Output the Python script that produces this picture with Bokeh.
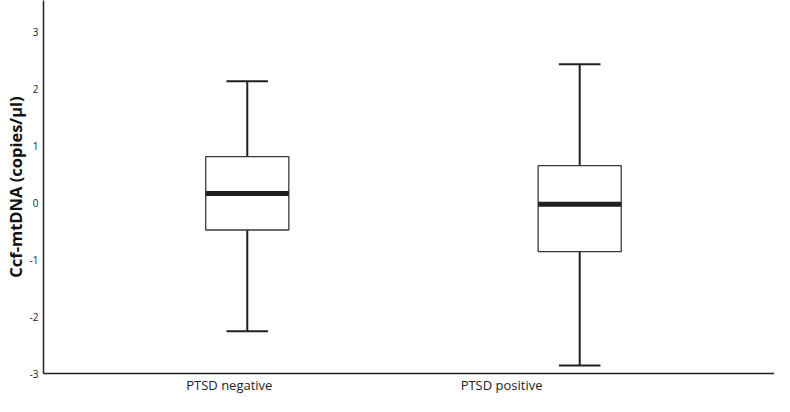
from bokeh.plotting import figure
from bokeh.models import Range1d, ColumnDataSource
from bokeh.embed import file_html
from bokeh.resources import INLINE

categories = ["PTSD negative", "PTSD positive"]
positions = [1, 2]
label_positions = [0.946, 1.765]
whisker_low = [-2.26, -2.86]
q1 = [-0.48, -0.86]
median = [0.16, -0.03]
q3 = [0.81, 0.65]
whisker_high = [2.13, 2.43]
y_ticks = [-3, -2, -1, 0, 1, 2, 3]

box_w = 0.25
cap_w = 0.125
ink = "#231f20"

src = ColumnDataSource(dict(
    x=positions, lo=whisker_low, q1=q1, med=median, q3=q3, hi=whisker_high,
    bl=[p - box_w / 2 for p in positions], br=[p + box_w / 2 for p in positions],
    cl=[p - cap_w / 2 for p in positions], cr=[p + cap_w / 2 for p in positions],
))

p = figure(width=774, height=396, output_backend="svg", toolbar_location=None,
           x_range=Range1d(0.387, 2.586), y_range=Range1d(-3, 3.55),
           min_border_left=0, min_border_right=0, min_border_top=0, min_border_bottom=0)
p.outline_line_color = None
p.xgrid.visible = False
p.ygrid.visible = False

# whiskers
p.segment(x0="x", y0="q3", x1="x", y1="hi", source=src, line_color=ink, line_width=2)
p.segment(x0="x", y0="lo", x1="x", y1="q1", source=src, line_color=ink, line_width=2)
p.segment(x0="cl", y0="hi", x1="cr", y1="hi", source=src, line_color=ink, line_width=2)
p.segment(x0="cl", y0="lo", x1="cr", y1="lo", source=src, line_color=ink, line_width=2)
# boxes
p.vbar(x="x", width=box_w, bottom="q1", top="q3", source=src, fill_color="white",
       line_color="#3a3a3a", line_width=1.3)
# medians
p.segment(x0="bl", y0="med", x1="br", y1="med", source=src, line_color=ink, line_width=5)

font = "Open Sans"
p.xaxis.ticker = label_positions
p.xaxis.major_label_overrides = {pos: c for pos, c in zip(label_positions, categories)}
p.yaxis.ticker = y_ticks
p.yaxis.major_label_overrides = {t: str(t) for t in y_ticks}
for ax in (p.xaxis[0], p.yaxis[0]):
    ax.major_tick_line_color = None
    ax.minor_tick_line_color = None
    ax.major_tick_out = 0
    ax.major_tick_in = 0
    ax.minor_tick_out = 0
    ax.minor_tick_in = 0
    ax.axis_line_color = ink
    ax.axis_line_width = 1.5
    ax.major_label_text_font = font
    ax.major_label_text_color = "#222222"
p.xaxis.major_label_text_font_size = "13px"
p.xaxis.major_label_standoff = 2
p.xaxis.axis_label_standoff = 0
p.xaxis.axis_label_text_font_size = "0px"
p.yaxis.major_label_text_font_size = "10px"
p.yaxis.major_label_standoff = 5
p.yaxis.axis_label = "Ccf-mtDNA (copies/μl)"
p.yaxis.axis_label_text_font = font
p.yaxis.axis_label_text_font_style = "bold"
p.yaxis.axis_label_text_font_size = "16.5px"
p.yaxis.axis_label_text_color = "#111111"
p.yaxis.axis_label_standoff = 0

open("out.html", "w").write(file_html(p, INLINE))
